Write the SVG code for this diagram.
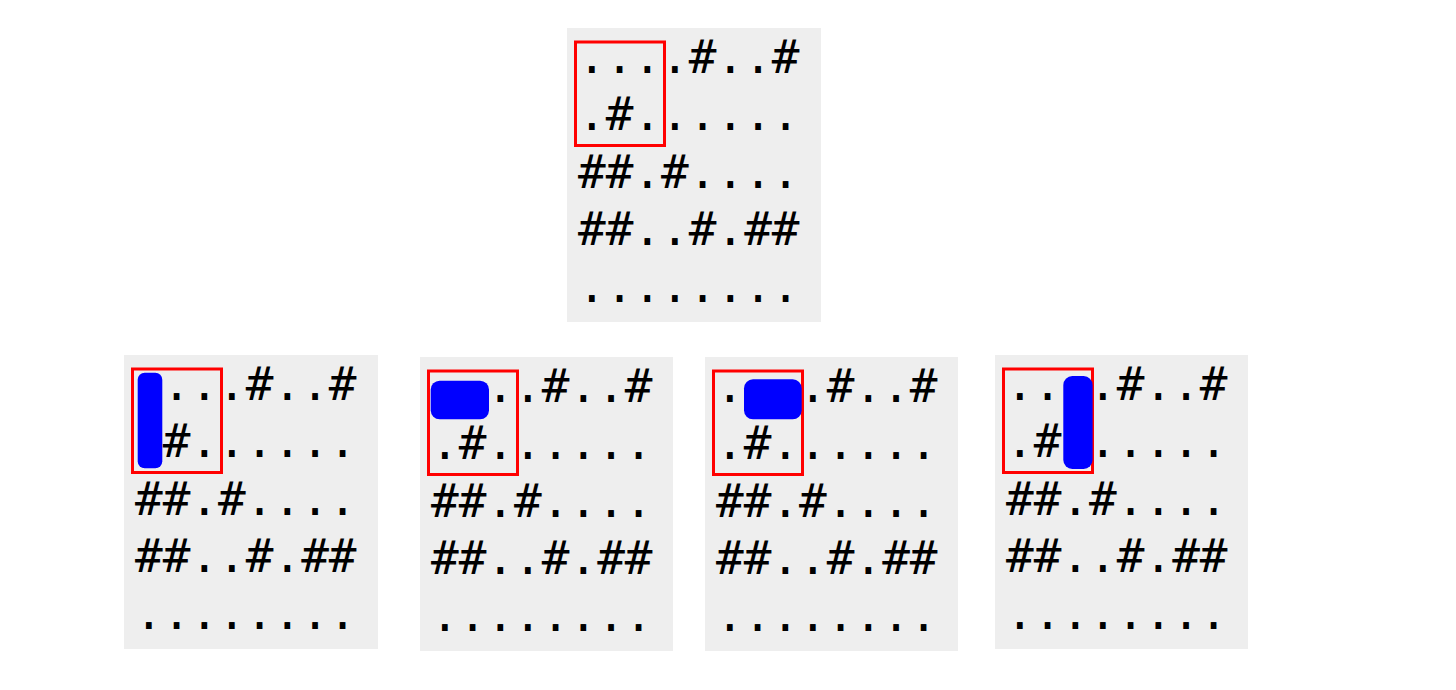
<svg xmlns="http://www.w3.org/2000/svg" width="1456" height="690" viewBox="0 0 1456 690">
<style>
.bg{fill:#eeeeee}
.g{font-family:"DejaVu Sans Mono",monospace;font-size:46px;fill:#000}
.win{fill:none;stroke:#ff0000;stroke-width:3}
.dom{fill:#0000ff}
</style>
<rect width="1456" height="690" fill="#ffffff"/>
<g id="panel-top" transform="translate(567,28)">
<rect class="bg" width="254" height="294"/>
<rect class="win" x="8.5" y="14" width="89" height="103.5"/>
<text class="g" x="11" y="45">....#..#</text>
<text class="g" x="11" y="102.3">.#......</text>
<text class="g" x="11" y="159.6">##.#....</text>
<text class="g" x="11" y="216.9">##..#.##</text>
<text class="g" x="11" y="274.2">........</text>
</g>
<g id="panel-1" transform="translate(124,355)">
<rect class="bg" width="254" height="294"/>
<rect class="win" x="8.5" y="14" width="89" height="103.5"/>
<text class="g" x="11" y="45">....#..#</text>
<text class="g" x="11" y="102.3">.#......</text>
<text class="g" x="11" y="159.6">##.#....</text>
<text class="g" x="11" y="216.9">##..#.##</text>
<text class="g" x="11" y="274.2">........</text>
<rect class="dom" x="13.7" y="17.7" width="24.6" height="95.6" rx="7"/>
</g>
<g id="panel-2" transform="translate(420,357)">
<rect class="bg" width="253" height="294"/>
<rect class="win" x="8.5" y="14" width="89" height="103.5"/>
<text class="g" x="11" y="45">....#..#</text>
<text class="g" x="11" y="102.3">.#......</text>
<text class="g" x="11" y="159.6">##.#....</text>
<text class="g" x="11" y="216.9">##..#.##</text>
<text class="g" x="11" y="274.2">........</text>
<rect class="dom" x="10.7" y="23.7" width="58.3" height="38.6" rx="9"/>
</g>
<g id="panel-3" transform="translate(705,357)">
<rect class="bg" width="253" height="294"/>
<rect class="win" x="8.5" y="14" width="89" height="103.5"/>
<text class="g" x="11" y="45">....#..#</text>
<text class="g" x="11" y="102.3">.#......</text>
<text class="g" x="11" y="159.6">##.#....</text>
<text class="g" x="11" y="216.9">##..#.##</text>
<text class="g" x="11" y="274.2">........</text>
<rect class="dom" x="39" y="22.3" width="57.7" height="40" rx="9"/>
</g>
<g id="panel-4" transform="translate(995,355)">
<rect class="bg" width="253" height="294"/>
<rect class="win" x="8.5" y="14" width="89" height="103.5"/>
<text class="g" x="11" y="45">....#..#</text>
<text class="g" x="11" y="102.3">.#......</text>
<text class="g" x="11" y="159.6">##.#....</text>
<text class="g" x="11" y="216.9">##..#.##</text>
<text class="g" x="11" y="274.2">........</text>
<rect class="dom" x="68.3" y="21" width="29.3" height="93" rx="9"/>
</g>
</svg>
